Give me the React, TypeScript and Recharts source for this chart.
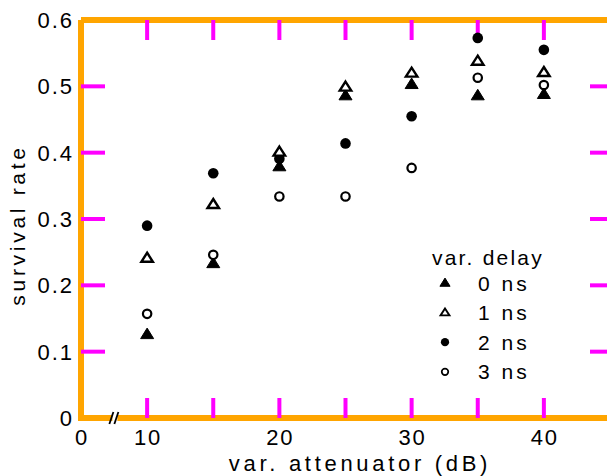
import React from 'react';
import { ScatterChart, Scatter, XAxis, YAxis, Legend } from 'recharts';

// ---- data ----
const attenuation = [10, 15, 20, 25, 30, 35, 40];
const delay0ns = [0.126, 0.233, 0.379, 0.486, 0.503, 0.486, 0.488];
const delay1ns = [0.241, 0.322, 0.401, 0.499, 0.52, 0.538, 0.521];
const delay2ns = [0.29, 0.369, 0.391, 0.414, 0.455, 0.573, 0.555];
const delay3ns = [0.157, 0.246, 0.334, 0.334, 0.377, 0.513, 0.502];
const seriesLabels = ['0 ns', '1 ns', '2 ns', '3 ns'];
const legendTitle = 'var. delay';
const xTitle = 'var. attenuator (dB)';
const yTitle = 'survival rate';
const X_MIN = 5;
const X_MAX = 45;
const Y_MIN = 0;
const Y_MAX = 0.6;
const BREAK_AT = 7.6;
const xTicks = [5, 10, 15, 20, 25, 30, 35, 40];
const yTicks = [0, 0.1, 0.2, 0.3, 0.4, 0.5, 0.6];
const xTickMarks = [10, 15, 20, 25, 30, 35, 40];
const yTickMarks = [0.1, 0.2, 0.3, 0.4, 0.5];

const FONT = '"Liberation Sans", Arial, sans-serif';
const INK = '#000';

const toPoints = (ys: number[]) => attenuation.map((x, i) => ({ x, y: ys[i] }));

type Kind = 'triFilled' | 'triOpen' | 'circFilled' | 'circOpen';
const series: { name: string; kind: Kind; data: { x: number; y: number }[] }[] = [
  { name: seriesLabels[0], kind: 'triFilled', data: toPoints(delay0ns) },
  { name: seriesLabels[1], kind: 'triOpen', data: toPoints(delay1ns) },
  { name: seriesLabels[2], kind: 'circFilled', data: toPoints(delay2ns) },
  { name: seriesLabels[3], kind: 'circOpen', data: toPoints(delay3ns) },
];
const drawOrder = [2, 0, 1, 3];

const framePoints = [
  { x: X_MIN, y: Y_MAX },
  { x: X_MIN, y: Y_MIN },
  { x: X_MAX, y: Y_MIN },
  { x: X_MAX, y: Y_MAX },
  { x: X_MIN, y: Y_MAX },
];
const bottomMarks = xTickMarks.map((x) => ({ x, y: Y_MIN }));
const topMarks = xTickMarks.map((x) => ({ x, y: Y_MAX }));
const leftMarks = yTickMarks.map((y) => ({ x: X_MIN, y }));
const rightMarks = yTickMarks.map((y) => ({ x: X_MAX, y }));
const breakMark = [{ x: BREAK_AT, y: Y_MIN }];

function marker(kind: Kind, cx: number, cy: number, s: number) {
  if (kind === 'triFilled' || kind === 'triOpen') {
    const w = (kind === 'triFilled' ? 13 : 11.5) * s;
    const h = (kind === 'triFilled' ? 10.5 : 9) * s;
    const d = `M${cx},${cy - h * 0.6} L${cx + w / 2},${cy + h * 0.4} L${cx - w / 2},${cy + h * 0.4} Z`;
    return kind === 'triFilled' ? (
      <path d={d} fill={INK} stroke={INK} strokeWidth={1} />
    ) : (
      <path d={d} fill="#fff" stroke={INK} strokeWidth={2.4 * s} strokeLinejoin="miter" />
    );
  }
  if (kind === 'circFilled') return <circle cx={cx} cy={cy} r={5.3 * s} fill={INK} />;
  return <circle cx={cx} cy={cy} r={4.2 * s} fill="#fff" stroke={INK} strokeWidth={2.2 * s} />;
}

const makeShape = (kind: Kind) => (props: any) => {
  const { cx, cy } = props;
  if (cx == null || cy == null) return <g />;
  return marker(kind, cx, cy, 1);
};

const tickShape = (dx: number, dy: number) => (props: any) => {
  const { cx, cy } = props;
  if (cx == null || cy == null) return <g />;
  return <line x1={cx} y1={cy} x2={cx + dx * 2} y2={cy + dy * 2} stroke="magenta" strokeWidth={4} />;
};

const breakShape = (props: any) => {
  const { cx, cy } = props;
  if (cx == null || cy == null) return <g />;
  return (
    <g>
      <rect x={cx - 3} y={cy - 3} width={5} height={6} fill="#fff" />
      <line x1={cx - 6} y1={cy + 6} x2={cx - 2} y2={cy - 6} stroke={INK} strokeWidth={1.8} />
      <line x1={cx - 1} y1={cy + 6} x2={cx + 3} y2={cy - 6} stroke={INK} strokeWidth={1.8} />
    </g>
  );
};

const noShape = () => <g />;

const textStyle = { fontFamily: FONT, fill: INK };
const axisLineStyle = { stroke: INK, strokeWidth: 2.4 };

function BottomTick(props: any) {
  const { x, y, payload } = props;
  const v = payload.value;
  const label = v === X_MIN ? '0' : v % 10 === 0 ? String(v) : '';
  if (!label) return <g />;
  return (
    <text x={x + 1} y={y + 27} textAnchor="middle" fontSize={22} letterSpacing={2} style={textStyle}>
      {label}
    </text>
  );
}

function LeftTick(props: any) {
  const { x, y, payload } = props;
  const v = payload.value;
  const label = v === 0 ? '0' : v.toFixed(1);
  return (
    <text x={x - 7} y={y} dy="0.36em" textAnchor="end" fontSize={22} letterSpacing={2} style={textStyle}>
      {label}
    </text>
  );
}

function XTitle() {
  return (
    <text x={360} y={471} textAnchor="middle" fontSize={22} letterSpacing={3.7} style={textStyle}>
      {xTitle}
    </text>
  );
}

function YTitle() {
  return (
    <text x={25} y={225} transform="rotate(-90 25 225)" textAnchor="middle" fontSize={21} letterSpacing={3.7} style={textStyle}>
      {yTitle}
    </text>
  );
}

function LegendBox() {
  const rowY = (i: number) => 43 + i * 29.6;
  return (
    <svg width={160} height={150} style={{ display: 'block', overflow: 'visible' }}>
      <text x={4} y={25} fontSize={21} letterSpacing={2.2} style={textStyle}>
        {legendTitle}
      </text>
      {series.map((s, i) => (
        <g key={s.name}>
          {marker(s.kind, 17, rowY(i), 0.78)}
          <text x={50} y={rowY(i) + 7.5} fontSize={21} letterSpacing={3} style={textStyle}>
            {s.name}
          </text>
        </g>
      ))}
    </svg>
  );
}

export default function App() {
  return (
    <div style={{ position: 'absolute', left: 0, top: 0, width: 607, height: 476, overflow: 'hidden' }}>
      <ScatterChart width={620} height={476} margin={{ top: 20, right: 10, bottom: 0, left: 0 }}>
        <XAxis
          type="number"
          dataKey="x"
          domain={[X_MIN, X_MAX]}
          ticks={xTicks}
          height={58}
          tickSize={0}
          tickMargin={0}
          tickLine={false}
          axisLine={axisLineStyle}
          tick={<BottomTick />}
          label={<XTitle />}
        />
        <YAxis
          type="number"
          dataKey="y"
          domain={[Y_MIN, Y_MAX]}
          ticks={yTicks}
          width={81}
          tickSize={0}
          tickMargin={0}
          tickLine={false}
          axisLine={axisLineStyle}
          tick={<LeftTick />}
          label={<YTitle />}
        />
        <Legend
          layout="vertical"
          align="center"
          verticalAlign="middle"
          content={() => <LegendBox />}
          wrapperStyle={{ left: 428, top: 240, width: 160, height: 150 }}
        />
        <Scatter
          name="frame"
          data={framePoints}
          line={{ stroke: 'orange', strokeWidth: 6 }}
          lineJointType="linear"
          shape={noShape}
          isAnimationActive={false}
          legendType="none"
        />
        <Scatter name="ticks-bottom" data={bottomMarks} shape={tickShape(0, -10)} isAnimationActive={false} legendType="none" />
        <Scatter name="ticks-top" data={topMarks} shape={tickShape(0, 10)} isAnimationActive={false} legendType="none" />
        <Scatter name="ticks-left" data={leftMarks} shape={tickShape(12, 0)} isAnimationActive={false} legendType="none" />
        <Scatter name="ticks-right" data={rightMarks} shape={tickShape(-10, 0)} isAnimationActive={false} legendType="none" />
        <Scatter name="axis-break" data={breakMark} shape={breakShape} isAnimationActive={false} legendType="none" />
        {drawOrder.map((idx) => (
          <Scatter
            key={series[idx].name}
            name={series[idx].name}
            data={series[idx].data}
            shape={makeShape(series[idx].kind)}
            isAnimationActive={false}
            legendType="none"
          />
        ))}
      </ScatterChart>
    </div>
  );
}
